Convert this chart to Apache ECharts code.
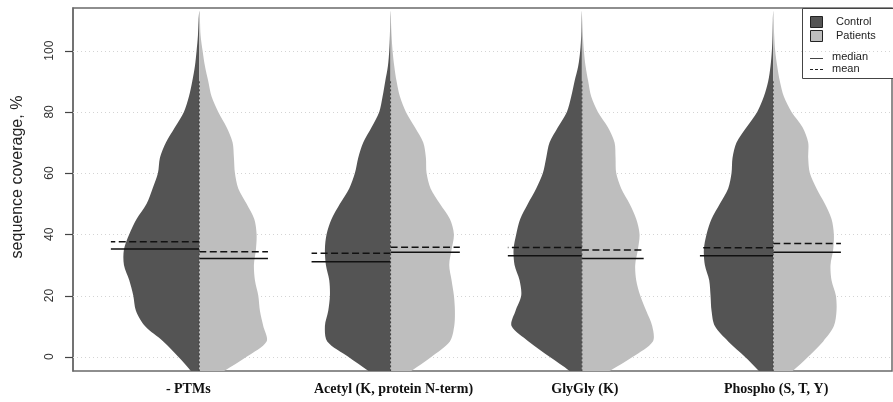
<!DOCTYPE html>
<html><head><meta charset="utf-8">
<script src="https://cdn.jsdelivr.net/npm/echarts@6/dist/echarts.min.js"></script>
<style>html,body{margin:0;padding:0;background:#fff}#c{width:893px;height:402px}</style>
</head><body><div id="c"></div>
<script>
// ---- data ----
const categories = ['- PTMs', 'Acetyl (K, protein N-term)', 'GlyGly (K)', 'Phospho (S, T, Y)'];
const groups = ['Control', 'Patients'];
const yTicks = [0, 20, 40, 60, 80, 100];
// y levels at which the violin half-widths (densities) were read
const levels = [-10, -5, 0, 5, 10, 15, 20, 25, 30, 35, 40, 45, 50, 55, 60, 65, 70, 75, 80, 85, 90, 95, 100, 105, 110, 113];
const densPTMsControl     = [0, 23, 63, 108, 163, 190, 198, 210, 226, 226, 210, 188, 158, 140, 124, 118, 100, 73, 46, 31, 21, 13, 8, 4, 2, 0];
const densPTMsPatients    = [0, 70, 142, 202, 192, 182, 177, 167, 164, 170, 172, 165, 142, 117, 107, 104, 100, 82, 57, 37, 27, 17, 10, 4, 2, 0];
const densAcetylControl   = [0, 62, 127, 190, 197, 187, 182, 184, 194, 197, 192, 177, 152, 124, 107, 97, 82, 57, 34, 24, 16, 8, 4, 2, 1, 0];
const densAcetylPatients  = [0, 58, 123, 178, 191, 193, 190, 183, 176, 183, 190, 178, 148, 120, 108, 106, 98, 73, 46, 28, 18, 11, 6, 3, 1, 0];
const densGlyGlyControl   = [0, 34, 97, 160, 211, 199, 182, 187, 202, 205, 197, 185, 162, 137, 117, 107, 97, 72, 45, 32, 22, 11, 5, 2, 1, 0];
const densGlyGlyPatients  = [0, 78, 153, 213, 211, 193, 175, 163, 160, 168, 173, 163, 143, 118, 103, 101, 98, 78, 48, 28, 19, 11, 6, 3, 1, 0];
const densPhosphoControl  = [0, 40, 85, 135, 175, 185, 188, 192, 205, 208, 200, 185, 160, 135, 125, 122, 110, 80, 48, 28, 15, 8, 4, 2, 1, 0];
const densPhosphoPatients = [0, 55, 105, 150, 182, 190, 188, 175, 172, 180, 182, 175, 155, 130, 110, 105, 105, 88, 55, 32, 20, 12, 6, 3, 1, 0];
const medianControl  = [35.2, 31.0, 33.0, 33.0];
const meanControl    = [37.6, 33.8, 35.7, 35.6];
const medianPatients = [32.1, 34.1, 32.1, 34.1];
const meanPatients   = [34.3, 35.8, 34.9, 37.0];
const lineExtentControl  = [0.462, 0.413, 0.387, 0.383];
const lineExtentPatients = [0.359, 0.362, 0.323, 0.354];

// ---- setup ----
const X_MIN = 0.34, X_MAX = 4.621, Y_MIN = -4.67, Y_MAX = 113.95;
const DENSITY_SCALE = 1 / 574;
const COLORS = ['#545454', '#bebebe'];
const violins = [
  [densPTMsControl, densPTMsPatients],
  [densAcetylControl, densAcetylPatients],
  [densGlyGlyControl, densGlyGlyPatients],
  [densPhosphoControl, densPhosphoPatients]
];
const medians = [medianControl, medianPatients];
const means = [meanControl, meanPatients];
const lineExtent = [lineExtentControl, lineExtentPatients];

const items = [];
categories.forEach((c, i) => groups.forEach((g, j) => items.push([i, j])));

function renderViolin(params, api) {
  const ci = api.value(0), gi = api.value(1);
  const center = ci + 1, sign = gi === 0 ? -1 : 1;
  const dens = violins[ci][gi];
  const outer = levels.map((y, k) => api.coord([center + sign * dens[k] * DENSITY_SCALE, y]));
  const inner = levels.slice(1, -1).reverse().map(y => api.coord([center, y]));
  const children = [{
    type: 'polygon', shape: { points: outer.concat(inner), smooth: 0.3 },
    style: { fill: COLORS[gi], stroke: null }
  }];
  const ext = lineExtent[gi][ci];
  const med = medians[gi][ci], mn = means[gi][ci];
  const m1 = api.coord([center, med]), m2 = api.coord([center + sign * ext, med]);
  children.push({ type: 'line', shape: { x1: m1[0], y1: m1[1], x2: m2[0], y2: m2[1] },
    style: { stroke: '#111', lineWidth: 1.5 } });
  const n1 = api.coord([center, mn]), n2 = api.coord([center + sign * ext, mn]);
  children.push({ type: 'line', shape: { x1: n1[0], y1: n1[1], x2: n2[0], y2: n2[1] },
    style: { stroke: '#111', lineWidth: 1.5, lineDash: [7, 3.5] } });
  if (gi === 1) {
    const ctrl = violins[ci][0];
    let top = levels[0];
    levels.forEach((y, k) => { if (ctrl[k] >= 15) top = y; });
    const c1 = api.coord([center, levels[0]]), c2 = api.coord([center, top]);
    children.push({ type: 'line', shape: { x1: c1[0], y1: c1[1], x2: c2[0], y2: c2[1] },
      style: { stroke: '#3a3a3a', lineWidth: 1, lineDash: [2, 2] } });
  }
  return { type: 'group', children };
}

function renderGridLine(params, api) {
  const cs = params.coordSys;
  const p = api.coord([X_MIN, api.value(1)]);
  const y = Math.round(p[1]) + 0.5;
  return { type: 'group', children: [
    { type: 'line', shape: { x1: cs.x, y1: y, x2: cs.x + cs.width, y2: y },
      style: { stroke: '#d4d4d4', lineWidth: 1, lineDash: [1, 3] } },
    { type: 'line', shape: { x1: cs.x - 8, y1: y, x2: cs.x, y2: y },
      style: { stroke: '#444', lineWidth: 1.2 } }
  ] };
}

const serifBold = { fontFamily: 'Liberation Serif', fontWeight: 'bold', fontSize: 14, color: '#111' };

const option = {
  animation: false,
  backgroundColor: '#fff',
  grid: { left: 73, top: 8, right: 1, bottom: 31, show: true, borderColor: '#6a6a6a', borderWidth: 1.5, backgroundColor: 'transparent' },
  xAxis: {
    type: 'value', min: X_MIN, max: X_MAX,
    axisLine: { show: false }, axisTick: { show: false }, splitLine: { show: false },
    axisLabel: {
      customValues: [1, 2, 3, 4], margin: 11,
      formatter: v => { const i = Math.round(v) - 1; return (i === 0 ? '{a|' : '{b|') + categories[i] + '}'; },
      rich: {
        a: Object.assign({ padding: [0, 22, 0, 0] }, serifBold),
        b: Object.assign({ padding: [0, 0, 0, 6] }, serifBold)
      }
    }
  },
  yAxis: {
    type: 'value', min: Y_MIN, max: Y_MAX,
    axisLine: { show: true, lineStyle: { color: '#6a6a6a', width: 1.5 } }, splitLine: { show: false },
    axisTick: { show: false },
    axisLabel: { customValues: yTicks, rotate: 90, margin: 17, fontFamily: 'Liberation Sans', fontSize: 12, color: '#333' }
  },
  series: [
    { type: 'custom', name: 'grid', z: 1, silent: true, clip: false, renderItem: renderGridLine,
      data: yTicks.map(v => [X_MIN, v]) },
    { type: 'custom', name: 'violins', z: 2, clip: true, silent: true, renderItem: renderViolin, data: items }
  ],
  graphic: [
    { type: 'text', x: 18, y: 177, rotation: Math.PI / 2,
      style: { text: 'sequence coverage, %', fontFamily: 'Liberation Sans', fontSize: 16, fill: '#222', align: 'center', verticalAlign: 'middle' } },
    { type: 'group', z: 100, children: [
      { type: 'rect', shape: { x: 802.5, y: 8.5, width: 91, height: 70 }, style: { fill: '#fff', stroke: '#444', lineWidth: 1 } },
      { type: 'rect', shape: { x: 810.5, y: 16.5, width: 12, height: 11 }, style: { fill: COLORS[0], stroke: '#222', lineWidth: 1 } },
      { type: 'rect', shape: { x: 810.5, y: 30.5, width: 12, height: 11 }, style: { fill: COLORS[1], stroke: '#222', lineWidth: 1 } },
      { type: 'text', x: 836, y: 22, style: { text: groups[0], fontFamily: 'Liberation Sans', fontSize: 11, fill: '#222', verticalAlign: 'middle' } },
      { type: 'text', x: 836, y: 36, style: { text: groups[1], fontFamily: 'Liberation Sans', fontSize: 11, fill: '#222', verticalAlign: 'middle' } },
      { type: 'line', shape: { x1: 810, y1: 58.5, x2: 823, y2: 58.5 }, style: { stroke: '#444', lineWidth: 1 } },
      { type: 'line', shape: { x1: 810, y1: 69.5, x2: 823, y2: 69.5 }, style: { stroke: '#222', lineWidth: 1, lineDash: [3, 2] } },
      { type: 'text', x: 832, y: 57, style: { text: 'median', fontFamily: 'Liberation Sans', fontSize: 11, fill: '#222', verticalAlign: 'middle' } },
      { type: 'text', x: 832, y: 69, style: { text: 'mean', fontFamily: 'Liberation Sans', fontSize: 11, fill: '#222', verticalAlign: 'middle' } }
    ] }
  ]
};
const chart = echarts.init(document.getElementById('c'));
chart.setOption(option);
</script>
</body></html>
